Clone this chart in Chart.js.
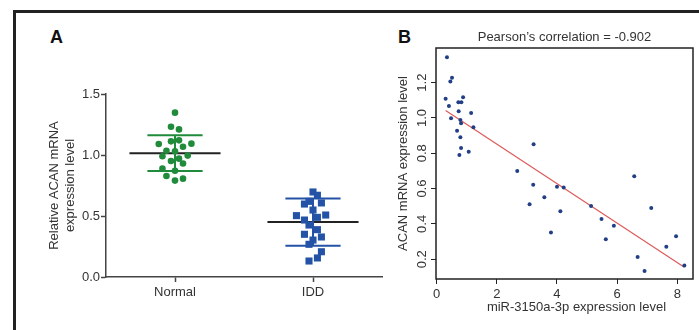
<!DOCTYPE html>
<html>
<head>
<meta charset="utf-8">
<script src="https://cdn.jsdelivr.net/npm/chart.js@4.4.0/dist/chart.umd.min.js"></script>
<style>
  html, body { margin: 0; padding: 0; background: #fff; }
  #wrap { position: relative; width: 699px; height: 330px; overflow: hidden; background: #fff; }
  canvas { position: absolute; left: 0; top: 0; }
  #frame { position: absolute; left: 13px; top: 10px; width: 720px; height: 360px; border: 3px solid #222; box-sizing: border-box; }
  .plabel { position: absolute; font-family: 'Liberation Sans', Arial, sans-serif; font-weight: bold; font-size: 18px; color: #111; line-height: 1; }
</style>
</head>
<body>
<div id="wrap">
  <div id="frame"></div>
  <div class="plabel" style="left:50px; top:28px;">A</div>
  <div class="plabel" style="left:398px; top:28px;">B</div>
  <canvas id="chartA" width="699" height="330"></canvas>
  <canvas id="chartB" width="699" height="330"></canvas>
</div>
<script>
// ---------- Panel A data ----------
const categories = ['Normal', 'IDD'];
const normalValues = [1.347, 1.232, 1.21, 1.09, 1.112, 1.12, 1.093, 1.068, 1.035, 1.03, 0.99, 0.995, 0.951, 0.97, 0.93, 0.888, 0.871, 0.828, 0.79, 0.806];
const normalJitter = [0, -0.029, 0.029, -0.118, -0.029, 0.029, 0.119, 0.058, -0.062, 0, -0.091, 0.092, -0.029, 0.029, 0.058, -0.091, 0, -0.062, 0, 0.058];
const iddValues = [0.697, 0.67, 0.598, 0.62, 0.607, 0.549, 0.503, 0.489, 0.508, 0.467, 0.426, 0.388, 0.35, 0.328, 0.303, 0.268, 0.207, 0.156, 0.131];
const iddJitter = [0, 0.032, -0.062, -0.029, 0.061, 0, -0.12, 0.032, 0.092, -0.062, -0.029, 0.032, -0.062, 0.061, 0, -0.029, 0.061, 0.032, -0.029];
const groupMeans = [1.015, 0.45];
const groupSD = [0.147, 0.193];
const yTicksA = [0, 0.5, 1.0, 1.5];

// ---------- Panel B data ----------
const mirX = [0.345, 0.457, 0.512, 0.30, 0.41, 0.48, 0.723, 0.823, 0.88, 0.733, 1.147, 0.79, 0.813, 1.223, 0.68, 0.79, 0.813, 0.757, 1.067, 3.223, 2.68, 3.21, 3.09, 3.58, 4.0, 4.223, 3.8, 4.113, 5.133, 5.48, 5.89, 5.623, 6.567, 7.133, 6.68, 7.633, 7.957, 6.91, 8.233];
const acanY = [1.344, 1.206, 1.227, 1.109, 1.068, 0.998, 1.089, 1.089, 1.117, 1.038, 1.028, 0.989, 0.97, 0.947, 0.928, 0.891, 0.83, 0.79, 0.809, 0.851, 0.7, 0.622, 0.511, 0.551, 0.611, 0.606, 0.351, 0.472, 0.502, 0.428, 0.39, 0.313, 0.67, 0.49, 0.213, 0.271, 0.33, 0.134, 0.164];
const fitIntercept = 1.076;
const fitSlope = -0.112;
const xTicksB = [0, 2, 4, 6, 8];
const yTicksB = [0.2, 0.4, 0.6, 0.8, 1.0, 1.2];
const titleB = "Pearson\u2019s correlation = -0.902";
const xTitleB = 'miR-3150a-3p expression level';
const yTitleB = 'ACAN mRNA expression level';

// ---------- styling ----------
const FONT = "'Liberation Sans', Arial, sans-serif";
Chart.defaults.font.family = FONT;
Chart.defaults.font.size = 13;
Chart.defaults.color = '#333';
const GREEN = '#1f8b3b';
const BLUE = '#2352a6';
const NAVY = '#223f86';
const RED = '#dd5a5a';
const MEAN_HALF = 0.33;
const CAP_HALF = 0.2;
const groupColors = [GREEN, BLUE];

// ---------- Panel A ----------
const meanSets = groupMeans.map((m, i) => ({
  data: [{x: i - MEAN_HALF, y: m}, {x: i + MEAN_HALF, y: m}],
  showLine: true, borderColor: '#222', borderWidth: 2, pointRadius: 0, order: 3
}));
const sdSets = groupMeans.map((m, i) => {
  const s = groupSD[i];
  return {
    data: [
      {x: i - CAP_HALF, y: m + s}, {x: i + CAP_HALF, y: m + s}, {x: NaN, y: NaN},
      {x: i, y: m + s}, {x: i, y: m - s}, {x: NaN, y: NaN},
      {x: i - CAP_HALF, y: m - s}, {x: i + CAP_HALF, y: m - s}
    ],
    showLine: true, spanGaps: false, borderColor: groupColors[i], borderWidth: 2, pointRadius: 0, order: 2
  };
});

new Chart(document.getElementById('chartA'), {
  type: 'scatter',
  data: {
    datasets: [
      {
        data: normalValues.map((v, i) => ({x: 0 + normalJitter[i], y: v})),
        pointStyle: 'circle', pointRadius: 3.3, backgroundColor: GREEN, borderWidth: 0, order: 1
      },
      {
        data: iddValues.map((v, i) => ({x: 1 + iddJitter[i], y: v})),
        pointStyle: 'rect', pointRadius: 5, backgroundColor: BLUE, borderWidth: 0, order: 1
      },
      ...meanSets,
      ...sdSets
    ]
  },
  options: {
    responsive: false, animation: false, devicePixelRatio: 1,
    layout: { padding: { left: 43, right: 317, top: 94, bottom: 23 } },
    plugins: { legend: { display: false }, tooltip: { enabled: false } },
    scales: {
      x: {
        type: 'linear', min: -0.5, max: 1.5,
        afterBuildTicks: s => { s.ticks = categories.map((c, i) => ({value: i})); },
        afterFit: s => { s.height = 30; },
        ticks: { callback: v => categories[v], padding: 3, color: '#333', font: { size: 13 }, maxRotation: 0 },
        grid: { drawOnChartArea: false, drawTicks: true, tickLength: 5, tickColor: '#444', tickWidth: 1.5 },
        border: { display: true, color: '#444', width: 1.5 }
      },
      y: {
        min: 0, max: 1.5,
        afterBuildTicks: s => { s.ticks = yTicksA.map(v => ({value: v})); },
        afterFit: s => { s.width = 63; },
        ticks: { callback: v => v.toFixed(1), padding: 1, color: '#333', font: { size: 13 } },
        grid: { drawOnChartArea: false, drawTicks: true, tickLength: 5, tickColor: '#444', tickWidth: 1.5 },
        border: { display: true, color: '#444', width: 1.5 },
        title: { display: true, text: ['Relative ACAN mRNA', 'expression level'], padding: { top: 4, bottom: 0 }, color: '#333', font: { size: 13 } }
      }
    }
  }
});

// ---------- Panel B ----------
const boxAndXlab = {
  id: 'boxAndXlab',
  afterDraw(chart) {
    const {ctx, chartArea: a} = chart;
    ctx.save();
    ctx.strokeStyle = '#222';
    ctx.lineWidth = 1.5;
    ctx.strokeRect(a.left, a.top, a.right - a.left, a.bottom - a.top);
    ctx.fillStyle = '#333';
    ctx.font = '13px ' + FONT;
    ctx.textAlign = 'center';
    ctx.textBaseline = 'middle';
    ctx.fillText(xTitleB, (a.left + a.right) / 2 + 12, 307);
    ctx.restore();
  }
};

const xMin = Math.min(...mirX), xMax = Math.max(...mirX);

new Chart(document.getElementById('chartB'), {
  type: 'scatter',
  data: {
    datasets: [
      {
        data: mirX.map((x, i) => ({x: x, y: acanY[i]})),
        pointStyle: 'circle', pointRadius: 2, backgroundColor: NAVY, borderWidth: 0, order: 1
      },
      {
        data: [{x: xMin, y: fitIntercept + fitSlope * xMin}, {x: xMax, y: fitIntercept + fitSlope * xMax}],
        showLine: true, borderColor: RED, borderWidth: 1.2, pointRadius: 0, order: 2
      }
    ]
  },
  options: {
    responsive: false, animation: false, devicePixelRatio: 1,
    layout: { padding: { left: 396, right: 6, top: 29.4, bottom: 11 } },
    plugins: {
      legend: { display: false }, tooltip: { enabled: false },
      title: { display: true, text: titleB, fullSize: false, color: '#333', font: { size: 13, weight: 'normal' }, padding: { top: 0, bottom: 3 } }
    },
    scales: {
      x: {
        type: 'linear', min: -0.02, max: 8.52,
        afterBuildTicks: s => { s.ticks = xTicksB.map(v => ({value: v})); },
        afterFit: s => { s.height = 40; },
        ticks: { callback: v => String(v), padding: 3, color: '#333', font: { size: 13 }, maxRotation: 0 },
        grid: { drawOnChartArea: false, drawTicks: true, tickLength: 5, tickColor: '#222', tickWidth: 1 },
        border: { display: false }
      },
      y: {
        min: 0.088, max: 1.396,
        afterBuildTicks: s => { s.ticks = yTicksB.map(v => ({value: v})); },
        afterFit: s => { s.width = 40; },
        ticks: { callback: v => v.toFixed(1), padding: 0, minRotation: 90, maxRotation: 90, crossAlign: 'center', color: '#333', font: { size: 13 } },
        grid: { drawOnChartArea: false, drawTicks: true, tickLength: 5, tickColor: '#222', tickWidth: 1 },
        border: { display: false },
        title: { display: true, text: yTitleB, padding: { top: 0, bottom: 0 }, color: '#333', font: { size: 13 } }
      }
    }
  },
  plugins: [boxAndXlab]
});
</script>
</body>
</html>
